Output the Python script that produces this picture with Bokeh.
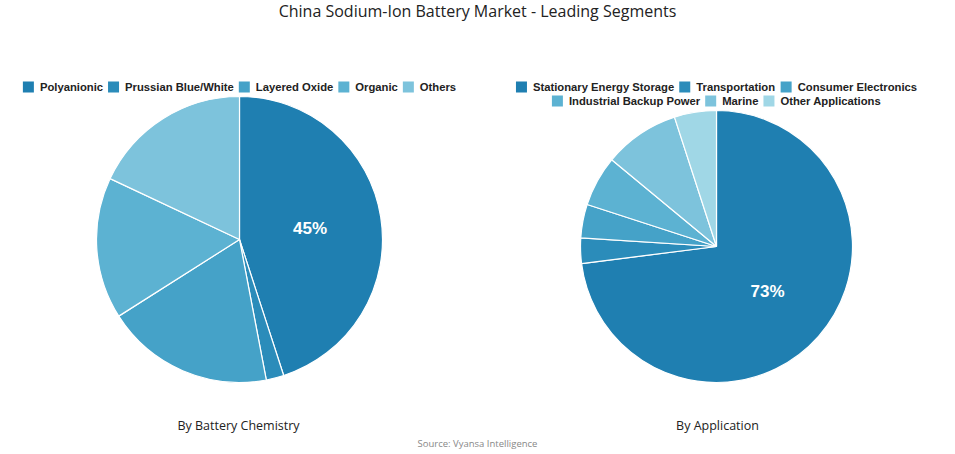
import math
from bokeh.plotting import figure
from bokeh.models import Range1d, ColumnDataSource
from bokeh.core.properties import value
from bokeh.embed import file_html
from bokeh.resources import INLINE

# ---------------- data ----------------
title_text = "China Sodium-Ion Battery Market - Leading Segments"
source_text = "Source: Vyansa Intelligence"

chem_title = "By Battery Chemistry"
chem_labels = ["Polyanionic", "Prussian Blue/White", "Layered Oxide", "Organic", "Others"]
chem_values = [45, 2, 19, 16, 18]
chem_colors = ["#1f7fb1", "#2b8cba", "#45a2c8", "#5cb2d2", "#7dc3dc"]

app_title = "By Application"
app_labels = ["Stationary Energy Storage", "Transportation", "Consumer Electronics",
              "Industrial Backup Power", "Marine", "Other Applications"]
app_values = [73, 3, 4, 6, 9, 5]
app_colors = ["#1f7fb1", "#2b8cba", "#45a2c8", "#5cb2d2", "#7dc3dc", "#a0d7e6"]

# ---------------- layout ----------------
W, H = 947, 452
PAGE_H = 454


def py(y):  # page y -> data y
    return PAGE_H - y


p = figure(width=W, height=H, output_backend="svg", toolbar_location=None,
           x_range=Range1d(0, W), y_range=Range1d(PAGE_H - H, PAGE_H),
           x_axis_type=None, y_axis_type=None, min_border=0)
p.outline_line_color = None
p.xgrid.visible = False
p.ygrid.visible = False
p.background_fill_color = "white"
p.border_fill_color = "white"

# Arial/Liberation Sans Bold advance widths (per 1000 em)
AW = {' ': 278, '/': 278}
AW.update(dict(zip("ABCDEFGHIJKLMNOPQRSTUVWXYZ",
                   [722, 722, 722, 722, 667, 611, 778, 722, 278, 556, 722, 611, 833, 722, 778, 667,
                    778, 722, 667, 611, 722, 667, 944, 667, 667, 611])))
AW.update(dict(zip("abcdefghijklmnopqrstuvwxyz",
                   [556, 611, 556, 611, 556, 333, 611, 611, 278, 278, 556, 278, 889, 611, 611, 611,
                    611, 389, 556, 333, 611, 556, 778, 556, 556, 500])))
LEG_FS = 11.25


def tw(s):
    return sum(AW.get(c, 556) for c in s) / 1000.0 * LEG_FS


SQ = 11
SQ_GAP = 6
ITEM_GAP = 5


def draw_legend(labels, colors, cx, y0, maxw=470, row_h=14):
    items = [(l, c, SQ + SQ_GAP + tw(l)) for l, c in zip(labels, colors)]
    rows, cur, curw = [], [], 0
    for it in items:
        add = it[2] + (ITEM_GAP if cur else 0)
        if cur and curw + add > maxw:
            rows.append((cur, curw))
            cur, curw = [it], it[2]
        else:
            cur.append(it)
            curw += add
    if cur:
        rows.append((cur, curw))
    sx, sy, sc, tx, ty, tt = [], [], [], [], [], []
    for r, (row, rw) in enumerate(rows):
        x = cx - rw / 2.0
        y = py(y0 + r * row_h)
        for l, c, w in row:
            sx.append(x + SQ / 2.0)
            sy.append(y)
            sc.append(c)
            tx.append(x + SQ + SQ_GAP)
            ty.append(y)
            tt.append(l)
            x += w + ITEM_GAP
    p.rect(x=sx, y=sy, width=SQ, height=SQ, fill_color=sc, line_color=None)
    p.text(x=tx, y=ty, text=tt, text_font=value("Liberation Sans"), text_font_style="bold",
           text_font_size=f"{LEG_FS}px", text_color="#222222",
           text_baseline="middle", text_align="left")


def draw_pie(values, colors, cx, cy, r):
    total = float(sum(values))
    starts, ends, cum = [], [], 0.0
    for v in values:
        starts.append(math.pi / 2 - 2 * math.pi * cum / total)
        cum += v
        ends.append(math.pi / 2 - 2 * math.pi * cum / total)
    src = ColumnDataSource(dict(start=starts, end=ends, color=colors))
    p.wedge(x=cx, y=py(cy), radius=r, start_angle="start", end_angle="end",
            direction="clock", fill_color="color", line_color="white", line_width=1.2,
            source=src)
    lx, ly, lt = [], [], []
    for v, s, e in zip(values, starts, ends):
        if v / total >= 0.3:
            m = (s + e) / 2
            lx.append(cx + 0.5 * r * math.cos(m))
            ly.append(py(cy) + 0.5 * r * math.sin(m))
            lt.append(f"{v}%")
    p.text(x=lx, y=ly, text=lt, text_font=value("Liberation Sans"), text_font_style="bold",
           text_font_size="17px", text_color="white", text_align="center",
           text_baseline="middle")


# left panel
draw_pie(chem_values, chem_colors, 239, 239, 143)
draw_legend(chem_labels, chem_colors, 239, 86.5)
# right panel
draw_pie(app_values, app_colors, 716, 246, 136)
draw_legend(app_labels, app_colors, 716, 86.5)

# titles
p.text(x=[477], y=[py(10)], text=[title_text], text_font=value("Open Sans"),
       text_font_size="16px", text_color="#222222", text_align="center", text_baseline="middle")
p.text(x=[238, 717], y=[py(425), py(425)], text=[chem_title, app_title],
       text_font=value("Open Sans"), text_font_size="12.5px", text_color="#222222",
       text_align="center", text_baseline="middle")
p.text(x=[477], y=[py(443)], text=[source_text], text_font=value("Open Sans"),
       text_font_size="9.5px", text_color="#888888", text_align="center", text_baseline="middle")

open("out.html", "w").write(file_html(p, INLINE))
